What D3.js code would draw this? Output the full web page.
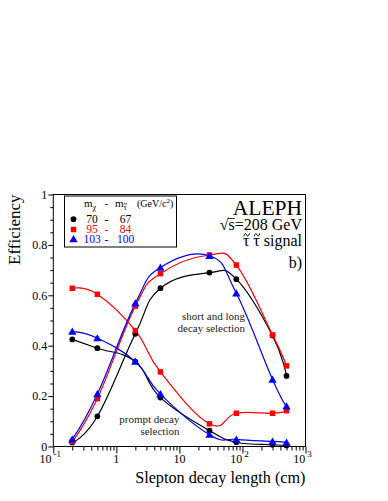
<!DOCTYPE html>
<html>
<head>
<meta charset="utf-8">
<script src="https://cdn.jsdelivr.net/npm/d3@7"></script>
<style>
  html, body { margin: 0; padding: 0; background: #fff; }
  svg { display: block; }
</style>
</head>
<body>
<div id="chart"></div>
<script>
// Slepton decay length (cm)
const decayLength = [0.2, 0.5, 2, 5, 30, 80, 300, 500];

// short and long decay selection efficiency
const effBlack = [0.016, 0.12, 0.447, 0.628, 0.69, 0.664, 0.44, 0.28];
const effRed   = [0.02, 0.19, 0.557, 0.686, 0.76, 0.72, 0.443, 0.32];
const effBlue  = [0.029, 0.208, 0.568, 0.71, 0.757, 0.608, 0.266, 0.16];

// prompt decay selection efficiency
const promptBlack = [0.425, 0.39, 0.337, 0.194, 0.063, 0.017, 0.007, 0.004];
const promptRed   = [0.628, 0.604, 0.46, 0.296, 0.09, 0.132, 0.132, 0.142];
const promptBlue  = [0.456, 0.43, 0.337, 0.208, 0.047, 0.028, 0.02, 0.016];

// legend: neutralino mass - stau mass
const massChi  = ["70", "95", "103"];
const massStau = ["67", "84", "100"];

const xMajor = [0.1, 1, 10, 100, 1000];
const xLabels = [["10", "-1"], ["1", ""], ["10", ""], ["10", "2"], ["10", "3"]];
const yMajor = [0, 0.2, 0.4, 0.6, 0.8, 1];

const SERIF = "'Liberation Serif', 'Times New Roman', serif";
const W = 388, H = 501;
const frame = { left: 53.3, right: 305.5, top: 194.5, bottom: 446.5 };

const svg = d3.select("#chart").append("svg")
    .attr("width", W).attr("height", H)
    .attr("viewBox", [0, 0, W, H])
    .attr("font-family", SERIF);

const x = d3.scaleLog().domain([0.1, 1000]).range([frame.left, frame.right]);
const y = d3.scaleLinear().domain([0, 1]).range([frame.bottom, frame.top]);

// minor ticks
const xMinor = [];
for (let e = -1; e < 3; e++) for (let m = 2; m <= 9; m++) xMinor.push(m * Math.pow(10, e));
const yMinor = d3.range(0, 1.0001, 0.05).filter(v => !yMajor.some(t => Math.abs(t - v) < 1e-6));

function styleAxis(g) {
    g.attr("font-family", SERIF);
    g.select(".domain").remove();
    g.selectAll("line").attr("stroke", "#000").attr("stroke-width", 1);
}

// x axis ticks
svg.append("g").attr("transform", `translate(0,${frame.bottom})`)
    .call(d3.axisBottom(x).tickValues(xMinor).tickSize(4).tickFormat(""))
    .call(styleAxis);
svg.append("g").attr("transform", `translate(0,${frame.bottom})`)
    .call(d3.axisBottom(x).tickValues(xMajor).tickSize(7).tickFormat(""))
    .call(styleAxis);

// y axis ticks
svg.append("g").attr("transform", `translate(${frame.left},0)`)
    .call(d3.axisLeft(y).tickValues(yMinor).tickSize(3).tickFormat(""))
    .call(styleAxis);
const yAx = svg.append("g").attr("transform", `translate(${frame.left},0)`)
    .call(d3.axisLeft(y).tickValues(yMajor).tickSize(5).tickPadding(1)
        .tickFormat(d => d === 0 ? "0" : d === 1 ? "1" : d.toFixed(1)))
    .call(styleAxis);
yAx.selectAll("text").attr("font-size", 12).attr("fill", "#000");

// x tick labels with superscripts
const xl = svg.append("g").selectAll("text")
    .data(xMajor.map((v, i) => ({ v, base: xLabels[i][0], exp: xLabels[i][1] })))
    .join("text")
    .attr("x", d => x(d.v) + (d.exp ? -3 : 0))
    .attr("y", 463)
    .attr("text-anchor", "middle")
    .attr("font-size", 12);
xl.append("tspan").text(d => d.base);
xl.filter(d => d.exp).append("tspan")
    .attr("dx", 2).attr("dy", -6).attr("font-size", 9)
    .text(d => d.exp);

// frame
svg.append("rect")
    .attr("x", frame.left).attr("y", frame.top)
    .attr("width", frame.right - frame.left).attr("height", frame.bottom - frame.top)
    .attr("fill", "none").attr("stroke", "#000").attr("stroke-width", 1);

// axis titles
svg.append("text")
    .attr("x", frame.right).attr("y", 483)
    .attr("text-anchor", "end").attr("font-size", 16.2)
    .text("Slepton decay length (cm)");
svg.append("text")
    .attr("transform", `translate(20,${frame.top}) rotate(-90)`)
    .attr("text-anchor", "end").attr("font-size", 17)
    .text("Efficiency");

// curves
const series = [
    { vals: effBlack, color: "#000", marker: "circle" },
    { vals: promptBlack, color: "#000", marker: "circle" },
    { vals: effRed, color: "#ff0000", marker: "square" },
    { vals: promptRed, color: "#ff0000", marker: "square" },
    { vals: effBlue, color: "#0000ff", marker: "triangle" },
    { vals: promptBlue, color: "#0000ff", marker: "triangle" }
];

const line = d3.line()
    .x(d => x(d[0]))
    .y(d => y(d[1]))
    .curve(d3.curveCardinal.tension(-0.25));

const symbols = {
    circle: d3.symbol().type(d3.symbolCircle).size(26),
    square: d3.symbol().type(d3.symbolSquare).size(30),
    triangle: d3.symbol().type(d3.symbolTriangle).size(30)
};

series.forEach(s => {
    const pts = decayLength.map((v, i) => [v, s.vals[i]]);
    svg.append("path")
        .attr("d", line(pts))
        .attr("fill", "none")
        .attr("stroke", s.color)
        .attr("stroke-width", 1.2);
});
series.forEach(s => {
    const pts = decayLength.map((v, i) => [v, s.vals[i]]);
    svg.append("g").selectAll("path")
        .data(pts)
        .join("path")
        .attr("transform", d => `translate(${x(d[0])},${y(d[1]) + (s.marker === "triangle" ? 0.8 : 0)})`)
        .attr("d", symbols[s.marker]())
        .attr("fill", s.color);
});

// annotations
const ann = [
    { lines: ["short and long", "decay selection"], xr: 245, y0: 320 },
    { lines: ["prompt decay", "selection"], xr: 179.5, y0: 423 }
];
ann.forEach(a => {
    a.lines.forEach((t, i) => {
        svg.append("text")
            .attr("x", a.xr).attr("y", a.y0 + i * 12.3)
            .attr("text-anchor", "end").attr("font-size", 11)
            .attr("fill", "#222")
            .text(t);
    });
});

// draw a small tilde (as a path) over given characters of a text element
function addTildes(textSel, idxs, baseline, fontSize, color) {
    const node = textSel.node();
    idxs.forEach(i => {
        const ext = node.getExtentOfChar(i);
        const cx = ext.x + ext.width / 2 + fontSize * 0.03;
        const cy = baseline - fontSize * 0.7;
        const w = fontSize * 0.36, h = fontSize * 0.09;
        svg.append("path")
            .attr("d", `M${cx - w / 2},${cy + h} Q${cx - w / 4},${cy - 2 * h} ${cx},${cy} T${cx + w / 2},${cy - h}`)
            .attr("fill", "none")
            .attr("stroke", color)
            .attr("stroke-width", Math.max(0.7, fontSize * 0.06));
    });
}

// top right labels
svg.append("text").attr("x", 302).attr("y", 215)
    .attr("text-anchor", "end").attr("font-size", 21.5).text("ALEPH");
const rs = svg.append("text").attr("x", 302).attr("y", 229.5)
    .attr("text-anchor", "end").attr("font-size", 16)
    .text("\u221As=208 GeV");
{
    const e0 = rs.node().getExtentOfChar(0);
    const e1 = rs.node().getExtentOfChar(1);
    svg.append("line")
        .attr("x1", e0.x + e0.width - 0.5).attr("x2", e1.x + e1.width)
        .attr("y1", e0.y + 3).attr("y2", e0.y + 3)
        .attr("stroke", "#000").attr("stroke-width", 0.8);
}
const sig = svg.append("text").attr("x", 302).attr("y", 246)
    .attr("text-anchor", "end").attr("font-size", 16)
    .text("\u03C4 \u03C4 signal");
addTildes(sig, [0, 2], 246, 16, "#000");
svg.append("text").attr("x", 302).attr("y", 268)
    .attr("text-anchor", "end").attr("font-size", 16).text("b)");

// legend
const leg = svg.append("g");
leg.append("rect")
    .attr("x", 64.5).attr("y", 196).attr("width", 112).attr("height", 51)
    .attr("fill", "#fff").attr("stroke", "#000").attr("stroke-width", 1);

const hdr = leg.append("text").attr("y", 206.5).attr("font-size", 11);
hdr.append("tspan").attr("x", 84).text("m");
hdr.append("tspan").attr("dy", 3).attr("font-size", 8).text("\u03C7");
hdr.append("tspan").attr("x", 104.5).attr("dy", -3).text("-");
hdr.append("tspan").attr("x", 115).text("m");
hdr.append("tspan").attr("dy", 3).attr("font-size", 8).text("\u03C4");
hdr.append("tspan").attr("x", 137).attr("dy", -3).attr("font-size", 10).text("(GeV/c");
hdr.append("tspan").attr("dy", -4).attr("font-size", 7).text("2");
hdr.append("tspan").attr("dy", 4).attr("font-size", 10).text(")");
addTildes(hdr, [4], 209.5, 8, "#000");

const legColors = ["#000", "#ff0000", "#0000ff"];
const legMarkers = ["circle", "square", "triangle"];
const rowY = [222.7, 233, 243.3];
massChi.forEach((m, i) => {
    leg.append("path")
        .attr("transform", `translate(73.5,${rowY[i] - 3.5})`)
        .attr("d", symbols[legMarkers[i]]())
        .attr("fill", legColors[i]);
    leg.append("text").attr("x", 92).attr("y", rowY[i])
        .attr("text-anchor", "middle").attr("font-size", 11.5)
        .attr("fill", legColors[i]).text(m);
    leg.append("text").attr("x", 106.5).attr("y", rowY[i])
        .attr("text-anchor", "middle").attr("font-size", 11.5)
        .attr("fill", legColors[i]).text("-");
    leg.append("text").attr("x", 125.5).attr("y", rowY[i])
        .attr("text-anchor", "middle").attr("font-size", 11.5)
        .attr("fill", legColors[i]).text(massStau[i]);
});
</script>
</body>
</html>
